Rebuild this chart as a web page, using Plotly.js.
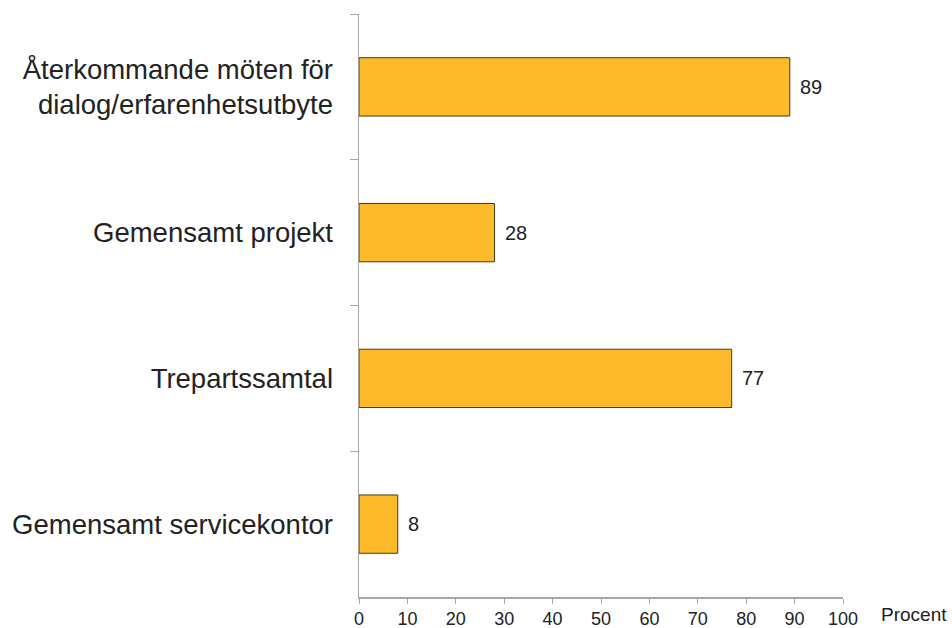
<!DOCTYPE html>
<html>
<head>
<meta charset="utf-8">
<script src="https://cdn.plot.ly/plotly-3.0.1.min.js"></script>
<style>html,body{margin:0;padding:0;background:#fff;}#chart{width:952px;height:628px;}</style>
</head>
<body>
<div id="chart"></div>
<script>
var categories = ["Återkommande möten för<br>dialog/erfarenhetsutbyte", "Gemensamt projekt", "Trepartssamtal", "Gemensamt servicekontor"];
var values = [89, 28, 77, 8];
var xTicks = [0, 10, 20, 30, 40, 50, 60, 70, 80, 90, 100];
var xUnit = "Procent";

var font = "Liberation Sans, Arial, sans-serif";
var trace = {
  type: "bar",
  orientation: "h",
  x: values,
  y: categories,
  marker: {color: "#FDBA2B", line: {color: "#4a3a10", width: 1}},
  hoverinfo: "none"
};
var annotations = values.map(function(v, i){
  return {x: v, y: categories[i], xref: "x", yref: "y", text: String(v), showarrow: false,
    xanchor: "left", xshift: 8, font: {family: font, size: 20, color: "#222"}};
});
annotations.push({x: 1, y: 0, xref: "paper", yref: "paper", text: xUnit, showarrow: false,
  xanchor: "left", yanchor: "top", xshift: 36, yshift: -5, font: {family: font, size: 19, color: "#222"}});
var layout = {
  width: 952, height: 628,
  margin: {l: 359, r: 109, t: 14, b: 31},
  paper_bgcolor: "#fff", plot_bgcolor: "#fff",
  showlegend: false,
  bargap: 0.6,
  font: {family: font, color: "#222"},
  xaxis: {range: [0, 100], tickvals: xTicks, ticks: "outside", ticklen: 5, tickcolor: "#a6a6a6",
    showline: true, linecolor: "#a6a6a6", linewidth: 1.5, showgrid: false, zeroline: false,
    tickfont: {family: font, size: 18, color: "#222"}, fixedrange: true},
  yaxis: {autorange: "reversed", type: "category", ticks: "outside", tickson: "boundaries", ticklen: 8,
    tickcolor: "#a6a6a6", showline: true, linecolor: "#a6a6a6", linewidth: 1.5, showgrid: false,
    zeroline: false, ticklabelstandoff: 19, tickfont: {family: font, size: 27.5, color: "#222"}, fixedrange: true},
  annotations: annotations
};
Plotly.newPlot("chart", [trace], layout, {displayModeBar: false, staticPlot: true});
</script>
</body>
</html>
